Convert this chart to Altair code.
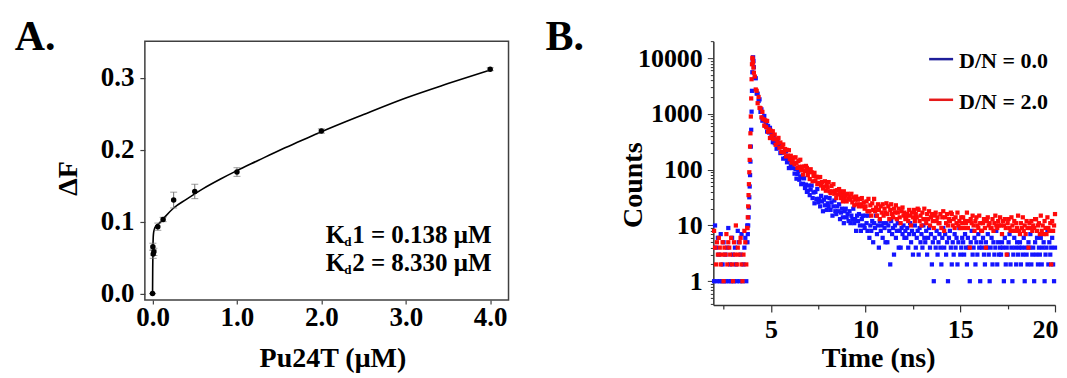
import altair as alt
import pandas as pd

FONT = "Liberation Serif"

# ---------------- Panel A : titration data ----------------
pu24t_uM = [0.0, 0.004, 0.008, 0.016, 0.0625, 0.125, 0.25, 0.5, 1.0, 2.0, 4.0]
delta_f = [0.0, 0.065, 0.055, 0.058, 0.093, 0.103, 0.130, 0.142, 0.169, 0.226, 0.312]
delta_f_err = [0.0, 0.005, 0.006, 0.005, 0.005, 0.003, 0.011, 0.010, 0.006, 0.003, 0.002]
fit_x = [0.0, 0.002, 0.005, 0.01, 0.02, 0.04, 0.07, 0.1, 0.15, 0.25, 0.4, 0.6, 0.8, 1.0,
         1.25, 1.5, 1.75, 2.0, 2.5, 3.0, 3.5, 4.0]
fit_y = [0.0, 0.035, 0.065, 0.082, 0.089, 0.094, 0.097, 0.100, 0.107, 0.119, 0.131, 0.146,
         0.159, 0.171, 0.185, 0.199, 0.212, 0.225, 0.249, 0.272, 0.292, 0.311]
kd_values = [0.138, 8.330]
x_ticks_a = [0, 1, 2, 3, 4]
y_ticks_a = [0.0, 0.1, 0.2, 0.3]

# ---------------- Panel B : fluorescence decay ----------------
series = ["D/N = 0.0", "D/N = 2.0"]
series_colors = ["#1414ff", "#ff0a0a"]
legend_colors = ["#1e1e9a", "#e61a1a"]
channel_ns = 0.05
pre_start_ns = 2.00
decay_start_ns = 4.15
rise_times_ns = [3.76, 3.78, 3.80, 3.82, 3.84, 3.86, 3.88, 3.90, 3.92, 3.94, 3.96, 3.98,
                 4.00, 4.02, 4.04, 4.06, 4.08, 4.10]

blue_pre = [1, 10, 4, 1, 6, 3, 1, 7, 1, 2, 5, 1, 3, 1, 4, 9, 1, 2, 1, 6, 3, 1, 4, 2, 1, 8,
            5, 1, 3, 7, 1, 2, 4, 6, 1, 10]
red_pre = [8, 4, 2, 5, 3, 6, 4, 2, 3, 5, 1, 4, 3, 7, 2, 5, 4, 3, 6, 2, 1, 5, 3, 10, 2, 4,
           3, 5, 6, 2, 1, 3, 8, 5, 2, 9]
blue_rise = [5, 7, 10, 14, 21, 32, 50, 80, 140, 260, 520, 1100, 2600, 5600, 9000, 10400,
             8900, 6900]
red_rise = [9, 14, 22, 35, 55, 90, 150, 260, 450, 900, 1900, 4200, 7800, 10200, 9600, 8300,
            6800, 5500]
blue_decay = [
    4500, 4370, 2320, 2310, 1710, 1830, 1090, 1210, 757, 870, 920, 616, 685, 484, 610, 465, 564, 378, 427, 312,
    414, 299, 326, 238, 348, 253, 269, 199, 261, 202, 158, 209, 162, 213, 136, 151, 107, 146, 120, 145,
    107, 129, 85, 103, 69, 84, 93, 66, 76, 55, 72, 56, 70, 47, 54, 40, 42, 52, 35, 44,
    52, 31, 39, 25, 40, 30, 45, 26, 30, 22, 34, 27, 18, 29, 23, 32, 19, 25, 22, 31,
    19, 26, 15, 22, 28, 18, 16, 22, 18, 24, 13, 17, 20, 14, 11, 18, 20, 14, 16, 12,
    18, 11, 15, 13, 20, 11, 13, 8, 15, 12, 16, 10, 8, 13, 15, 10, 9, 15, 11, 8,
    15, 6, 10, 8, 12, 5, 11, 9, 15, 7, 10, 4, 12, 8, 10, 6, 11, 9, 5, 11,
    5, 10, 8, 2, 12, 7, 9, 3, 10, 6, 8, 11, 4, 8, 4, 9, 7, 10, 6, 8,
    6, 9, 4, 7, 11, 5, 8, 3, 7, 10, 4, 6, 8, 3, 9, 5, 7, 4, 10, 6,
    5, 8, 3, 6, 9, 4, 7, 2, 5, 1, 6, 4, 8, 3, 5, 7, 4, 2, 6, 9,
    4, 7, 3, 5, 1, 6, 8, 4, 2, 5, 3, 7, 4, 6, 2, 5, 9, 3, 4, 6,
    5, 3, 7, 4, 2, 6, 4, 1, 5, 8, 3, 4, 6, 2, 5, 3, 7, 4, 1, 5,
    4, 6, 3, 2, 5, 4, 7, 3, 1, 4, 6, 2, 5, 3, 4, 8, 2, 5, 3, 4,
    3, 5, 4, 1, 6, 2, 4, 3, 5, 7, 2, 4, 1, 3, 6, 4, 2, 5, 3, 4,
    5, 2, 4, 3, 6, 1, 4, 3, 2, 5, 4, 7, 2, 3, 4, 1, 5, 3, 6, 2,
    4, 3, 6, 2, 4, 5, 1, 3, 4, 8, 2, 5, 3, 4, 6, 2, 1, 4,
]
red_decay = [
    4700, 2750, 2600, 1560, 2020, 1290, 1270, 870, 1090, 810, 620, 770, 580, 750, 480, 530, 370, 500, 405, 490,
    353, 427, 280, 351, 303, 372, 248, 308, 208, 255, 284, 204, 235, 173, 227, 179, 224, 155, 178, 134,
    149, 165, 125, 167, 133, 108, 143, 113, 151, 99, 113, 82, 114, 95, 117, 108, 80, 92, 68, 102,
    90, 62, 77, 88, 63, 75, 55, 73, 58, 74, 52, 60, 46, 50, 62, 42, 54, 48, 60, 41,
    38, 51, 41, 55, 37, 42, 31, 43, 36, 45, 41, 31, 36, 27, 41, 31, 35, 27, 37, 30,
    33, 29, 37, 26, 32, 23, 29, 33, 24, 29, 22, 30, 24, 31, 22, 26, 20, 22, 27, 18,
    30, 18, 23, 15, 25, 19, 30, 18, 21, 15, 24, 19, 13, 22, 17, 24, 15, 20, 17, 25,
    16, 22, 13, 19, 24, 16, 14, 20, 17, 23, 13, 17, 20, 14, 11, 18, 21, 15, 17, 13,
    14, 16, 12, 19, 15, 10, 17, 14, 19, 12, 16, 14, 20, 19, 12, 15, 10, 17, 13, 20,
    13, 11, 16, 13, 18, 10, 14, 16, 12, 9, 15, 17, 12, 14, 11, 11, 16, 9, 14, 18,
    8, 14, 11, 16, 10, 13, 12, 17, 16, 10, 13, 9, 14, 11, 17, 10, 12, 9, 14, 11,
    14, 9, 12, 11, 17, 9, 12, 4, 13, 11, 15, 10, 8, 12, 14, 10, 9, 15, 11, 8,
    8, 11, 13, 9, 4, 12, 14, 10, 11, 9, 9, 13, 8, 11, 15, 10, 9, 12, 10, 14,
    10, 7, 12, 10, 13, 9, 3, 11, 13, 9, 8, 14, 10, 8, 12, 8, 11, 9, 15, 8,
    7, 11, 9, 14, 8, 10, 7, 12, 9, 4, 11, 9, 12, 8, 10, 9, 13, 13, 8, 10,
    11, 7, 15, 8, 10, 7, 12, 9, 7, 14, 9, 8, 11, 2, 12, 8, 10, 16,
]
x_major_b = [5, 10, 15, 20]
x_minor_b = [2.5, 7.5, 12.5, 17.5]
y_major_b = [1, 10, 100, 1000, 10000]
y_minor_b = [0.4, 0.5, 0.6, 0.7, 0.8, 0.9, 2, 3, 4, 5, 6, 7, 8, 9, 20, 30, 40, 50, 60, 70,
             80, 90, 200, 300, 400, 500, 600, 700, 800, 900, 2000, 3000, 4000, 5000, 6000,
             7000, 8000, 9000, 20000]

# ---------------- build tables ----------------
df_a = pd.DataFrame({
    "x": pu24t_uM,
    "y": delta_f,
    "lo": [v - e for v, e in zip(delta_f, delta_f_err)],
    "hi": [v + e for v, e in zip(delta_f, delta_f_err)],
})
df_fit = pd.DataFrame({"x": fit_x, "y": fit_y})


def series_times(n_pre, n_decay):
    pre = [round(pre_start_ns + i * channel_ns, 3) for i in range(n_pre)]
    dec = [round(decay_start_ns + i * channel_ns, 3) for i in range(n_decay)]
    return pre + rise_times_ns + dec


rows = []
for name, pre, rise, dec in [(series[0], blue_pre, blue_rise, blue_decay),
                             (series[1], red_pre, red_rise, red_decay)]:
    counts = pre + rise + dec
    times = series_times(len(pre), len(dec))
    for t, c in zip(times, counts):
        rows.append({"time": t, "counts": c, "series": name})
df_b = pd.DataFrame(rows)

# ---------------- Panel A ----------------
WA, HA = 364, 259
sx_a = alt.Scale(domain=[-0.091, 4.217], nice=False, zero=False)
sy_a = alt.Scale(domain=[-0.0088, 0.351], nice=False, zero=False)
common_label = dict(labelFont=FONT, labelFontWeight="bold", labelColor="black",
                    labelOverlap=False, labelFlush=False,
                    titleFont=FONT, titleFontWeight="bold", titleColor="black", grid=False)
axis_xa = alt.Axis(values=x_ticks_a, format=".1f", title="Pu24T (μM)", domain=False,
                   tickSize=4, tickColor="#404040", tickWidth=1.2, labelFontSize=27,
                   labelPadding=1, titleFontSize=28, titleX=187.7, titleY=67,
                   titleBaseline="alphabetic", titleAlign="center", **common_label)
axis_ya = alt.Axis(values=y_ticks_a, format=".1f", title="ΔF", domain=False,
                   tickSize=5, tickColor="#404040", tickWidth=1.2, labelFontSize=27,
                   labelPadding=6, titleFontSize=28, titleAngle=270, titleX=-68, titleY=137,
                   titleBaseline="alphabetic", titleAlign="center", **common_label)

fit_line = alt.Chart(df_fit).mark_line(color="black", strokeWidth=1.6, interpolate="monotone").encode(
    x=alt.X("x:Q", scale=sx_a, axis=axis_xa),
    y=alt.Y("y:Q", scale=sy_a, axis=axis_ya),
)
err_rule = alt.Chart(df_a).mark_rule(color="#707070", strokeWidth=1).encode(
    x=alt.X("x:Q", scale=sx_a, axis=axis_xa),
    y=alt.Y("lo:Q", scale=sy_a, axis=axis_ya),
    y2="hi:Q",
)
cap_lo = alt.Chart(df_a).mark_tick(color="#707070", orient="horizontal", size=7, thickness=1).encode(
    x=alt.X("x:Q", scale=sx_a, axis=axis_xa),
    y=alt.Y("lo:Q", scale=sy_a, axis=axis_ya),
)
cap_hi = alt.Chart(df_a).mark_tick(color="#707070", orient="horizontal", size=7, thickness=1).encode(
    x=alt.X("x:Q", scale=sx_a, axis=axis_xa),
    y=alt.Y("hi:Q", scale=sy_a, axis=axis_ya),
)
pts_a = alt.Chart(df_a).mark_circle(color="black", size=30, opacity=1).encode(
    x=alt.X("x:Q", scale=sx_a, axis=axis_xa),
    y=alt.Y("y:Q", scale=sy_a, axis=axis_ya),
)

one = pd.DataFrame({"k": [0]})
layers_a = [fit_line, err_rule, cap_lo, cap_hi, pts_a]
for i, kd in enumerate(kd_values):
    base_y = 202 + i * 28.5
    layers_a.append(alt.Chart(one).mark_text(font=FONT, fontWeight="bold", fontSize=25,
                                             align="left", baseline="alphabetic", color="black").encode(
        x=alt.value(181), y=alt.value(base_y), text=alt.value("K")))
    layers_a.append(alt.Chart(one).mark_text(font=FONT, fontWeight="bold", fontSize=13,
                                             align="left", baseline="alphabetic", color="black").encode(
        x=alt.value(199.5), y=alt.value(base_y + 3), text=alt.value("d")))
    layers_a.append(alt.Chart(one).mark_text(font=FONT, fontWeight="bold", fontSize=25,
                                             align="left", baseline="alphabetic", color="black").encode(
        x=alt.value(207.5), y=alt.value(base_y), text=alt.value(f"{i + 1} = {kd:.3f} μM")))
layers_a.append(alt.Chart(one).mark_text(font=FONT, fontWeight="bold", fontSize=42,
                                         align="left", baseline="alphabetic", color="black").encode(
    x=alt.value(-130.2), y=alt.value(9), text=alt.value("A.")))

chart_a = alt.layer(*layers_a).properties(
    width=WA, height=HA,
    view=alt.ViewBackground(stroke="#404040", strokeWidth=1.5),
)

# ---------------- Panel B ----------------
WB, HB = 342, 264
sx_b = alt.Scale(domain=[1.96, 20], nice=False, zero=False)
sy_b = alt.Scale(type="log", domain=[0.376, 20250], nice=False)
x_test = f"indexof({x_major_b}, datum.value) >= 0"
y_test = f"indexof({y_major_b}, datum.value) >= 0"
last_test = f"datum.value == {x_major_b[-1]}"
axis_xb = alt.Axis(values=sorted(x_major_b + x_minor_b),
                   labelExpr=f"{x_test} ? format(datum.value, 'd') : ''",
                   tickSize={"condition": {"test": x_test, "value": 7}, "value": 4},
                   labelAlign={"condition": {"test": last_test, "value": "right"}, "value": "center"},
                   labelOffset={"condition": {"test": last_test, "value": 3}, "value": 0},
                   domain=True, domainColor="#333333", domainWidth=1.5,
                   tickColor="#333333", tickWidth=1.2, labelFontSize=26, labelPadding=5,
                   title="Time (ns)", titleFontSize=28, titleX=165, titleY=62,
                   titleBaseline="alphabetic", titleAlign="center", **common_label)
axis_yb = alt.Axis(values=sorted(y_major_b + y_minor_b),
                   labelExpr=f"{y_test} ? format(datum.value, 'd') : ''",
                   tickSize={"condition": {"test": y_test, "value": 6}, "value": 3},
                   domain=True, domainColor="#333333", domainWidth=1.5,
                   tickColor="#333333", tickWidth=1, labelFontSize=26, labelPadding=5,
                   title="Counts", titleFontSize=28, titleAngle=270, titleX=-72, titleY=143.7,
                   titleBaseline="alphabetic", titleAlign="center", **common_label)

pts_b = alt.Chart(df_b).mark_square(size=18, opacity=1, filled=True).encode(
    x=alt.X("time:Q", scale=sx_b, axis=axis_xb),
    y=alt.Y("counts:Q", scale=sy_b, axis=axis_yb),
    color=alt.Color("series:N", scale=alt.Scale(domain=series, range=series_colors), legend=None),
)

layers_b = [pts_b]
for i, name in enumerate(series):
    ly = 18 + i * 40.7
    layers_b.append(alt.Chart(one).mark_rule(color=legend_colors[i], strokeWidth=2.5).encode(
        x=alt.value(216), x2=alt.value(240), y=alt.value(ly)))
    layers_b.append(alt.Chart(one).mark_text(font=FONT, fontWeight="bold", fontSize=22,
                                             align="left", baseline="alphabetic", color="black").encode(
        x=alt.value(246), y=alt.value(ly + 9), text=alt.value(name)))
layers_b.append(alt.Chart(one).mark_text(font=FONT, fontWeight="bold", fontSize=42,
                                         align="left", baseline="alphabetic", color="black").encode(
    x=alt.value(-168), y=alt.value(9), text=alt.value("B.")))

chart_b = alt.layer(*layers_b).properties(
    width=WB, height=HB,
    view=alt.ViewBackground(stroke="transparent"),
)

chart = alt.hconcat(chart_a, chart_b, spacing=205, bounds="flush").properties(
    padding={"left": 6, "top": 7, "right": 0, "bottom": 0},
    background="white",
)

chart.save("out.html", embed_options={"renderer": "svg", "actions": False})
